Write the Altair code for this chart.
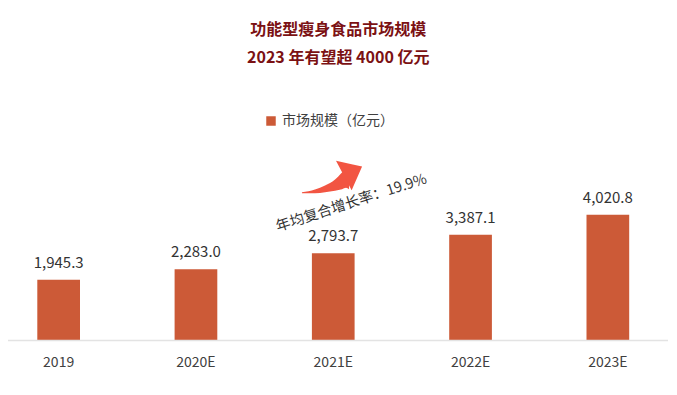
import altair as alt
import pandas as pd

FONT = "Noto Sans CJK SC"

# ---- data ----
years = ["2019", "2020E", "2021E", "2022E", "2023E"]
market = [1945.3, 2283.0, 2793.7, 3387.1, 4020.8]
series_name = "市场规模（亿元）"

# CAGR annotation (x as category index, y in 亿元)
cagr_text = "年均复合增长率：19.9%"
cagr_x = [2.133]
cagr_y = [4390]

# decorative arrow (x as category index, y in 亿元)
arrow_body_x = [1.772, 1.867, 1.940, 2.013, 2.064, 2.093, 2.115]
arrow_body_top = [4742, 4830, 4960, 5150, 5380, 5500, 5560]
arrow_body_bot = [4710, 4710, 4742, 4790, 4838, 4886, 4838]
arrow_head_x = [2.020, 2.134, 2.210]
arrow_head_top = [5750, 5640, 5570]
arrow_head_bot = [5750, 4810, 5570]

W = 650.5
H = 187.5
Y_MAX = 6000
X_DOM = [-0.3689, 4.3689]

bars_df = pd.DataFrame({"year": years, "value": market, "series": [series_name] * len(years)})
body_df = pd.DataFrame({"x": arrow_body_x, "top": arrow_body_top, "bot": arrow_body_bot})
head_df = pd.DataFrame({"x": arrow_head_x, "top": arrow_head_top, "bot": arrow_head_bot})
cagr_df = pd.DataFrame({"x": cagr_x, "y": cagr_y, "t": [cagr_text]})

yscale = alt.Scale(domain=[0, Y_MAX], nice=False, zero=True)
xq = alt.Scale(domain=X_DOM, nice=False, zero=False)

base = alt.Chart(bars_df)

bars = base.mark_bar().encode(
    x=alt.X("year:N", sort=years,
            scale=alt.Scale(paddingInner=0.689, paddingOuter=0.2134),
            axis=alt.Axis(title=None, labelAngle=0, domain=False, ticks=False,
                          labelPadding=15, labelFontSize=14, labelColor="#404040",
                          labelFont=FONT, grid=False)),
    y=alt.Y("value:Q", scale=yscale, axis=None),
    color=alt.Color("series:N", scale=alt.Scale(range=["#CC5A37"]),
                    legend=alt.Legend(orient="none", legendX=256, legendY=-39,
                                      title=None, symbolType="square", symbolSize=90,
                                      symbolStrokeWidth=0, labelFontSize=14,
                                      labelColor="#404040", labelFont=FONT,
                                      labelOffset=4)),
)

labels = base.mark_text(baseline="alphabetic", dy=-12, fontSize=15, font=FONT,
                        color="#333333").encode(
    x=alt.X("year:N", sort=years),
    y=alt.Y("value:Q", scale=yscale),
    text=alt.Text("value:Q", format=",.1f"),
)

baseline_rule = alt.Chart(pd.DataFrame({"v": [0]})).mark_rule(
    color="#e3e3e3", strokeWidth=1.5).encode(
    y=alt.Y("v:Q", scale=yscale), x=alt.value(0), x2=alt.value(660))

bottom_rule = alt.Chart(pd.DataFrame({"v": [0]})).mark_rule(
    color="#d9d9d9", strokeWidth=1.5).encode(
    y=alt.value(H + 49.3), x=alt.value(0), x2=alt.value(660))

bar_layer = alt.layer(bars, labels, baseline_rule, bottom_rule)

body = alt.Chart(body_df).mark_area(color="#F25542", interpolate="monotone").encode(
    x=alt.X("x:Q", scale=xq, axis=None),
    y=alt.Y("top:Q", scale=yscale),
    y2="bot:Q",
)
head = alt.Chart(head_df).mark_area(color="#F25542").encode(
    x=alt.X("x:Q", scale=xq, axis=None),
    y=alt.Y("top:Q", scale=yscale),
    y2="bot:Q",
)
cagr = alt.Chart(cagr_df).mark_text(angle=342, fontSize=14.5, font=FONT,
                                    color="#333333").encode(
    x=alt.X("x:Q", scale=xq, axis=None),
    y=alt.Y("y:Q", scale=yscale),
    text="t:N",
)

chart = alt.layer(bar_layer, body, head, cagr).resolve_scale(
    x="independent"
).properties(
    width=W, height=H,
    title=alt.Title(["功能型瘦身食品市场规模", "2023 年有望超 4000 亿元"],
                    anchor="middle", frame="group", dx=5,
                    fontSize=16, fontWeight="bold", color="#7B1113",
                    font=FONT, lineHeight=28, offset=48),
    autosize=alt.AutoSizeParams(type="none"),
    padding={"left": 0, "top": 145, "right": 10, "bottom": 45},
).configure_view(stroke=None)

chart.save("out.html", embed_options={"renderer": "svg", "actions": False})
